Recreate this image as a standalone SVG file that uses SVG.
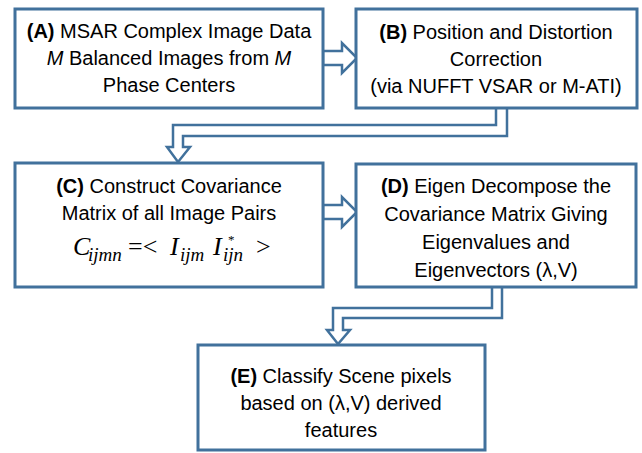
<svg xmlns="http://www.w3.org/2000/svg" width="642" height="453" viewBox="0 0 642 453">
<style>
.box{fill:#fff;stroke:#41719C;stroke-width:3}
.arr{fill:#fff;stroke:#41719C;stroke-width:2.5;stroke-linejoin:miter}
.t{font-family:"Liberation Sans",Arial,sans-serif;font-size:20px;fill:#000;text-anchor:middle}
.b{font-weight:bold}
.m{font-family:"Liberation Serif","Times New Roman",serif;font-style:italic;font-size:26px;fill:#000}
.s{font-size:19px}
.st{font-family:"Liberation Serif","Times New Roman",serif;font-size:13px;fill:#000}
</style>
<rect width="642" height="453" fill="#fff"/>
<g id="connectors">
<path class="arr" d="M323,51 L342,51 L342,43 L357,58 L342,73 L342,65 L323,65 Z"/>
<path class="arr" d="M496,108 L496,125 L173,125 L173,147 L167,147 L178,162 L190,147 L183,147 L183,136 L507,136 L507,108"/>
<path class="arr" d="M323,205 L342,205 L342,197 L357,212 L342,227 L342,219 L323,219 Z"/>
<path class="arr" d="M492,287 L492,308 L333,308 L333,330 L327,330 L338,344 L350,330 L343,330 L343,318 L502,318 L502,287"/>
</g>
<g id="nodeA">
<rect class="box" x="15" y="9" width="308" height="99"/>
<text class="t" x="169" y="38"><tspan class="b">(A)</tspan> MSAR Complex Image Data</text>
<text class="t" x="169" y="65"><tspan font-style="italic">M</tspan> Balanced Images from <tspan font-style="italic">M</tspan></text>
<text class="t" x="169" y="92">Phase Centers</text>
</g>
<g id="nodeB">
<rect class="box" x="356" y="9" width="281" height="99"/>
<text class="t" x="496" y="39"><tspan class="b">(B)</tspan> Position and Distortion</text>
<text class="t" x="496" y="66">Correction</text>
<text class="t" x="496" y="93">(via NUFFT VSAR or M-ATI)</text>
</g>
<g id="nodeC">
<rect class="box" x="15" y="163" width="308" height="124"/>
<text class="t" x="169" y="193"><tspan class="b">(C)</tspan> Construct Covariance</text>
<text class="t" x="169" y="220">Matrix of all Image Pairs</text>
<text class="m" y="255"><tspan x="73">C</tspan><tspan class="s" x="88" y="261">ijmn</tspan><tspan x="128" y="255" font-style="normal">=&lt;</tspan><tspan x="170">I</tspan><tspan class="s" x="180" y="261">ijm</tspan><tspan x="213" y="255">I</tspan><tspan class="s" x="223" y="261">ijn</tspan><tspan x="256" y="255" font-style="normal">&gt;</tspan></text>
<text class="st" x="228" y="244">*</text>
</g>
<g id="nodeD">
<rect class="box" x="356" y="164" width="280" height="123"/>
<text class="t" x="496" y="193"><tspan class="b">(D)</tspan> Eigen Decompose the</text>
<text class="t" x="496" y="221">Covariance Matrix Giving</text>
<text class="t" x="496" y="249">Eigenvalues and</text>
<text class="t" x="496" y="277">Eigenvectors (λ,V)</text>
</g>
<g id="nodeE">
<rect class="box" x="198" y="345" width="287" height="105"/>
<text class="t" x="341" y="383"><tspan class="b">(E)</tspan> Classify Scene pixels</text>
<text class="t" x="341" y="410">based on (λ,V) derived</text>
<text class="t" x="341" y="437">features</text>
</g>
</svg>
